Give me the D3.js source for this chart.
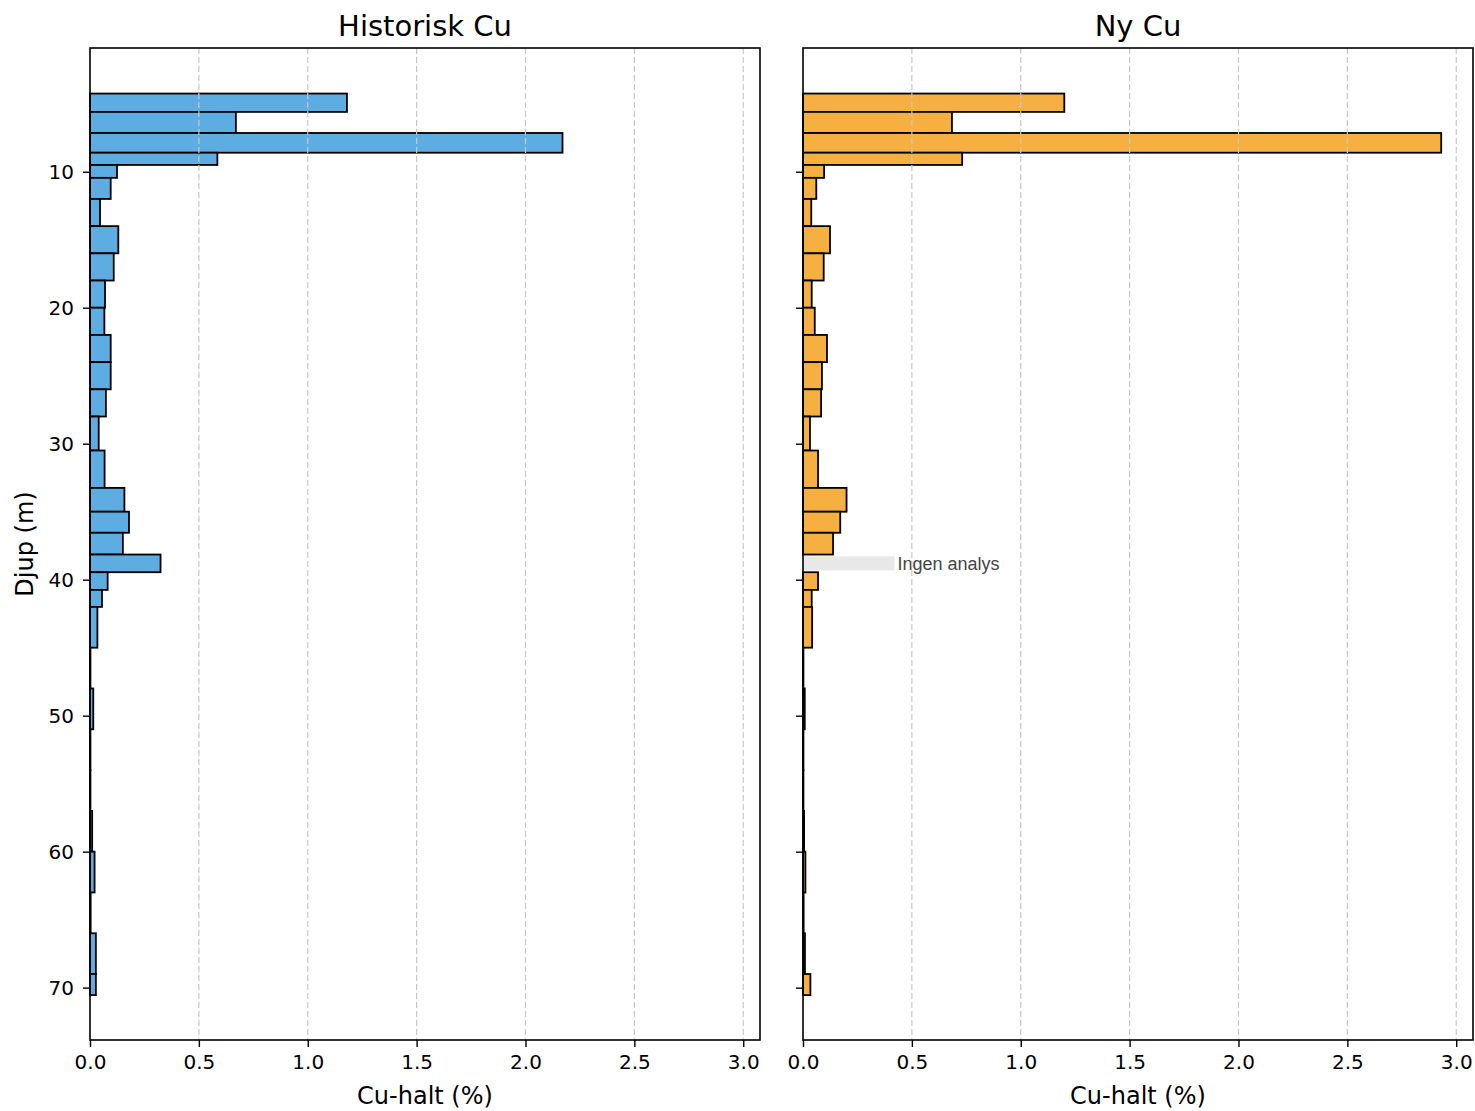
<!DOCTYPE html>
<html>
<head>
<meta charset="utf-8">
<script src="https://d3js.org/d3.v7.min.js"></script>
<style>
  body { margin: 0; background: #fff; }
  text { font-family: "DejaVu Sans", sans-serif; fill: #000; }
</style>
</head>
<body>
<script>
// depth intervals (m) and Cu grades (%)
var depthFrom = [4.25, 5.6, 7.15, 8.6, 9.5, 10.45, 12, 14, 16, 18, 20, 22, 24, 26, 28, 30.5, 33.25, 35, 36.55, 38.15, 39.45, 40.75, 42, 45, 48, 51, 54, 57, 60, 63, 66, 69];
var depthTo   = [5.6, 7.15, 8.6, 9.5, 10.45, 12, 14, 16, 18, 20, 22, 24, 26, 28, 30.5, 33.25, 35, 36.55, 38.15, 39.45, 40.75, 42, 45, 48, 51, 54, 57, 60, 63, 66, 69, 70.55];
var histCu = [1.18, 0.67, 2.17, 0.585, 0.124, 0.095, 0.046, 0.13, 0.109, 0.069, 0.066, 0.095, 0.095, 0.073, 0.04, 0.067, 0.158, 0.179, 0.151, 0.324, 0.081, 0.055, 0.034, 0.002, 0.015, 0.002, 0.002, 0.01, 0.021, 0.003, 0.027, 0.027];
var newCu  = [1.2, 0.684, 2.931, 0.731, 0.097, 0.061, 0.038, 0.124, 0.095, 0.04, 0.054, 0.11, 0.087, 0.083, 0.032, 0.069, 0.2, 0.171, 0.138, null, 0.069, 0.04, 0.042, 0.002, 0.008, 0.002, 0.002, 0.005, 0.011, 0.003, 0.009, 0.034];
var xTicks = [0, 0.5, 1.0, 1.5, 2.0, 2.5, 3.0];
var yTicks = [10, 20, 30, 40, 50, 60, 70];
var noDataWidth = 0.42;   // grey "Ingen analys" marker
var noDataLabel = "Ingen analys";

var panels = [
  {title: "Historisk Cu", values: histCu, color: "#5DADE2", left: 90, showY: true},
  {title: "Ny Cu", values: newCu, color: "#F5B041", left: 803, showY: false}
];

var W = 1475, H = 1111;
var plotTop = 48, plotBottom = 1040, plotW = 670;

var svg = d3.select("body").append("svg")
  .attr("width", W).attr("height", H);

var yScale = d3.scaleLinear().domain([0.9, 73.85]).range([plotTop, plotBottom]);

panels.forEach(function(p) {
  var xScale = d3.scaleLinear().domain([0, 3.077]).range([p.left, p.left + plotW]);
  var g = svg.append("g");

  var rows = depthFrom.map(function(d, i) {
    return {from: d, to: depthTo[i], v: p.values[i]};
  });

  // bars
  g.selectAll("rect.bar")
    .data(rows.filter(function(d) { return d.v !== null; }))
    .enter().append("rect")
    .attr("class", "bar")
    .attr("x", xScale(0))
    .attr("y", function(d) { return yScale(d.from); })
    .attr("width", function(d) { return xScale(d.v) - xScale(0); })
    .attr("height", function(d) { return yScale(d.to) - yScale(d.from); })
    .attr("fill", p.color)
    .attr("stroke", "#000")
    .attr("stroke-width", 1.8);

  // missing analyses
  var missing = rows.filter(function(d) { return d.v === null; });
  missing.forEach(function(d) {
    var h = yScale(d.to) - yScale(d.from);
    g.append("rect")
      .attr("x", xScale(0))
      .attr("y", yScale(d.from) + h * 0.1)
      .attr("width", xScale(noDataWidth) - xScale(0))
      .attr("height", h * 0.8)
      .attr("fill", "#e8e8e8");
    g.append("text")
      .attr("x", xScale(noDataWidth) + 3)
      .attr("y", yScale((d.from + d.to) / 2))
      .attr("dy", "0.35em")
      .style("font-family", "'Liberation Sans', Arial, sans-serif")
      .style("font-size", "18px")
      .style("fill", "#444")
      .text(noDataLabel);
  });

  // vertical dashed grid
  g.selectAll("line.grid")
    .data(xTicks.slice(1))
    .enter().append("line")
    .attr("x1", function(d) { return xScale(d); })
    .attr("x2", function(d) { return xScale(d); })
    .attr("y1", plotTop).attr("y2", plotBottom)
    .attr("stroke", "#c8c8c8")
    .attr("stroke-width", 1.2)
    .attr("stroke-dasharray", "6,3");

  // axes
  var xAxis = d3.axisBottom(xScale)
    .tickValues(xTicks)
    .tickFormat(d3.format(".1f"))
    .tickSize(7).tickPadding(8);
  var xg = g.append("g")
    .attr("transform", "translate(0," + plotBottom + ")")
    .call(xAxis);
  xg.select(".domain").remove();
  xg.selectAll("line").attr("stroke", "#000").attr("stroke-width", 1.4);
  xg.selectAll("text").style("font-size", "20px").style("font-family", "DejaVu Sans");

  var yAxis = d3.axisLeft(yScale)
    .tickValues(yTicks)
    .tickSize(7).tickPadding(9);
  if (!p.showY) yAxis.tickFormat("");
  var yg = g.append("g")
    .attr("transform", "translate(" + p.left + ",0)")
    .call(yAxis);
  yg.select(".domain").remove();
  yg.selectAll("line").attr("stroke", "#000").attr("stroke-width", 1.4);
  yg.selectAll("text").style("font-size", "20px").style("font-family", "DejaVu Sans");

  // frame
  g.append("rect")
    .attr("x", p.left).attr("y", plotTop)
    .attr("width", plotW).attr("height", plotBottom - plotTop)
    .attr("fill", "none")
    .attr("stroke", "#000")
    .attr("stroke-width", 1.6);

  // title and x label
  g.append("text")
    .attr("x", p.left + plotW / 2).attr("y", 36)
    .attr("text-anchor", "middle")
    .style("font-size", "29px")
    .text(p.title);

  g.append("text")
    .attr("x", p.left + plotW / 2).attr("y", 1104)
    .attr("text-anchor", "middle")
    .style("font-size", "24px")
    .text("Cu-halt (%)");
});

svg.append("text")
  .attr("transform", "translate(33," + ((plotTop + plotBottom) / 2) + ") rotate(-90)")
  .attr("text-anchor", "middle")
  .style("font-size", "24px")
  .text("Djup (m)");
</script>
</body>
</html>
